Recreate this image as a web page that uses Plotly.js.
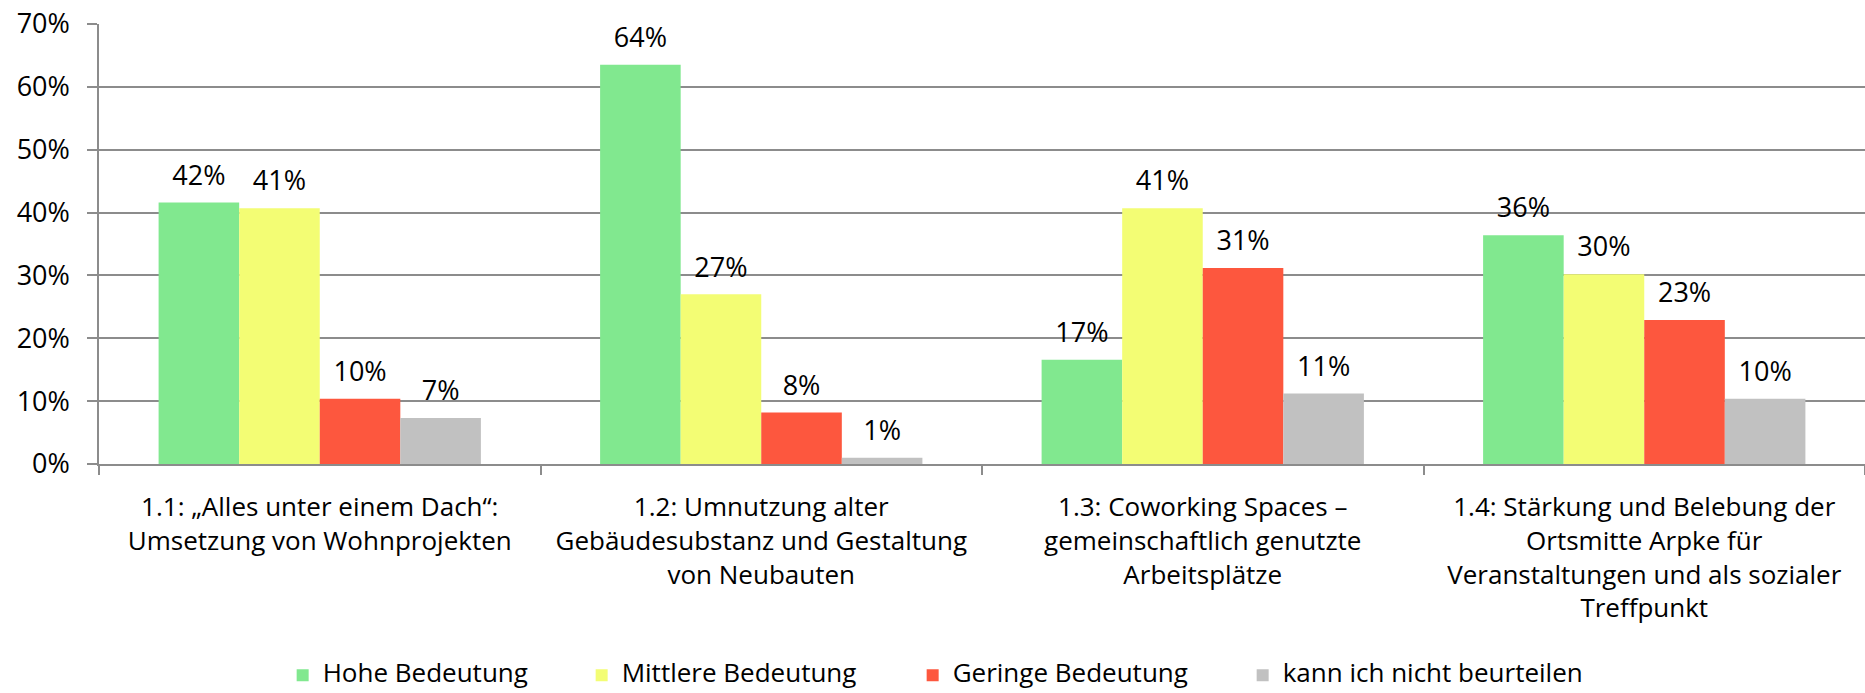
<!DOCTYPE html>
<html><head><meta charset="utf-8">
<script src="https://cdn.plot.ly/plotly-3.0.1.min.js"></script>
<style>html,body{margin:0;padding:0;background:#fff}#chart{width:1865px;height:693px}</style>
</head><body><div id="chart"></div>
<script>
const categories = [
  '1.1: „Alles unter einem Dach“:<br>Umsetzung von Wohnprojekten',
  '1.2: Umnutzung alter<br>Gebäudesubstanz und Gestaltung<br>von Neubauten',
  '1.3: Coworking Spaces –<br>gemeinschaftlich genutzte<br>Arbeitsplätze',
  '1.4: Stärkung und Belebung der<br>Ortsmitte Arpke für<br>Veranstaltungen und als sozialer<br>Treffpunkt'
];
const seriesNames = ['Hohe Bedeutung', 'Mittlere Bedeutung', 'Geringe Bedeutung', 'kann ich nicht beurteilen'];
const hohe = [0.416, 0.635, 0.166, 0.364];
const mittlere = [0.407, 0.270, 0.407, 0.302];
const geringe = [0.104, 0.082, 0.312, 0.229];
const kannNicht = [0.073, 0.010, 0.112, 0.104];
const yTickVals = [0, 0.1, 0.2, 0.3, 0.4, 0.5, 0.6, 0.7];
const yTickText = ['0%', '10%', '20%', '30%', '40%', '50%', '60%', '70%'];

const seriesValues = [hohe, mittlere, geringe, kannNicht];
const colors = ['#81E88F', '#F3FD74', '#FD573E', '#C1C1C1'];
const legendWidths = [254, 286, 285, null];
const FONT = 'Open Sans, sans-serif';
const GRID = '#8c8c8c';

const data = seriesValues.map((vals, i) => {
  const t = {
    type: 'bar',
    name: '<span style="font-size:26px">' + seriesNames[i] + '</span>',
    x: categories,
    y: vals,
    marker: {color: colors[i], line: {width: 0}},
    texttemplate: '<span style="font-size:27px">%{y:.0%}</span><br>\u00a0',
    textposition: 'outside',
    textfont: {family: FONT, size: 9, color: '#000'},
    cliponaxis: false,
    hoverinfo: 'x+y'
  };
  if (legendWidths[i]) t.legendwidth = legendWidths[i];
  return t;
});

const layout = {
  width: 1865, height: 693,
  margin: {l: 99, r: 0, t: 24, b: 229},
  paper_bgcolor: '#fff', plot_bgcolor: '#fff',
  barmode: 'group', bargap: 0.27, bargroupgap: 0,
  font: {family: FONT, color: '#000'},
  showlegend: true,
  legend: {
    orientation: 'h', x: 0.104, xanchor: 'left', y: -0.519, yanchor: 'bottom',
    font: {family: FONT, size: 16, color: '#000'},
    traceorder: 'normal'
  },
  xaxis: {
    type: 'category', range: [-0.5, 3.5], automargin: false,
    showline: true, linecolor: GRID, linewidth: 1.5,
    ticks: 'outside', tickson: 'boundaries', ticklen: 9, tickcolor: GRID, tickwidth: 1.5,
    tickfont: {family: FONT, size: 26, color: '#000'},
    ticklabelstandoff: 19, showgrid: false
  },
  yaxis: {
    range: [0, 0.7], automargin: false,
    tickvals: yTickVals, ticktext: yTickText,
    showgrid: true, gridcolor: GRID, gridwidth: 1.5, zeroline: false,
    showline: true, linecolor: GRID, linewidth: 1.5,
    ticks: 'outside', ticklen: 10, tickcolor: GRID, tickwidth: 1.5,
    tickfont: {family: FONT, size: 27, color: '#000'},
    ticklabelstandoff: 12
  }
};

Plotly.newPlot('chart', data, layout, {displayModeBar: false, responsive: false});
</script>
</body></html>
